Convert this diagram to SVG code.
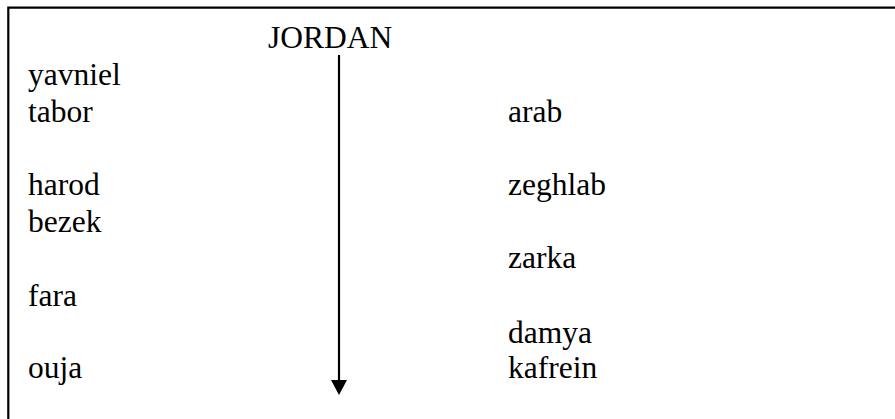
<svg xmlns="http://www.w3.org/2000/svg" width="895" height="419" viewBox="0 0 895 419">
<style>
text{font-family:"Liberation Serif","Times New Roman",serif;font-size:31.5px;fill:#000}
.frame{stroke:#000;stroke-width:2.2;fill:none}
.conn{stroke:#000;stroke-width:2.2;fill:none}
</style>
<defs>
<marker id="ah" markerUnits="userSpaceOnUse" markerWidth="17" markerHeight="16" refX="8" refY="1" orient="0" viewBox="0 0 17 16">
<path d="M0,0 L16,0 L8,15 Z" fill="#000"/>
</marker>
</defs>
<rect width="895" height="419" fill="#fff"/>
<path class="frame" d="M8.3,419 L8.3,7.7 L895,7.7"/>
<g id="jordan"><text x="268" y="48">JORDAN</text></g>
<g id="connectors">
<path class="conn" d="M339,55 L339,381" marker-end="url(#ah)"/>
</g>
<g id="yavniel"><text x="28" y="85">yavniel</text></g>
<g id="tabor"><text x="28" y="122">tabor</text></g>
<g id="harod"><text x="28" y="195">harod</text></g>
<g id="bezek"><text x="28" y="232">bezek</text></g>
<g id="fara"><text x="28" y="306">fara</text></g>
<g id="ouja"><text x="28" y="378">ouja</text></g>
<g id="arab"><text x="508" y="122">arab</text></g>
<g id="zeghlab"><text x="508" y="195">zeghlab</text></g>
<g id="zarka"><text x="508" y="268">zarka</text></g>
<g id="damya"><text x="508" y="343">damya</text></g>
<g id="kafrein"><text x="508" y="378">kafrein</text></g>
</svg>
